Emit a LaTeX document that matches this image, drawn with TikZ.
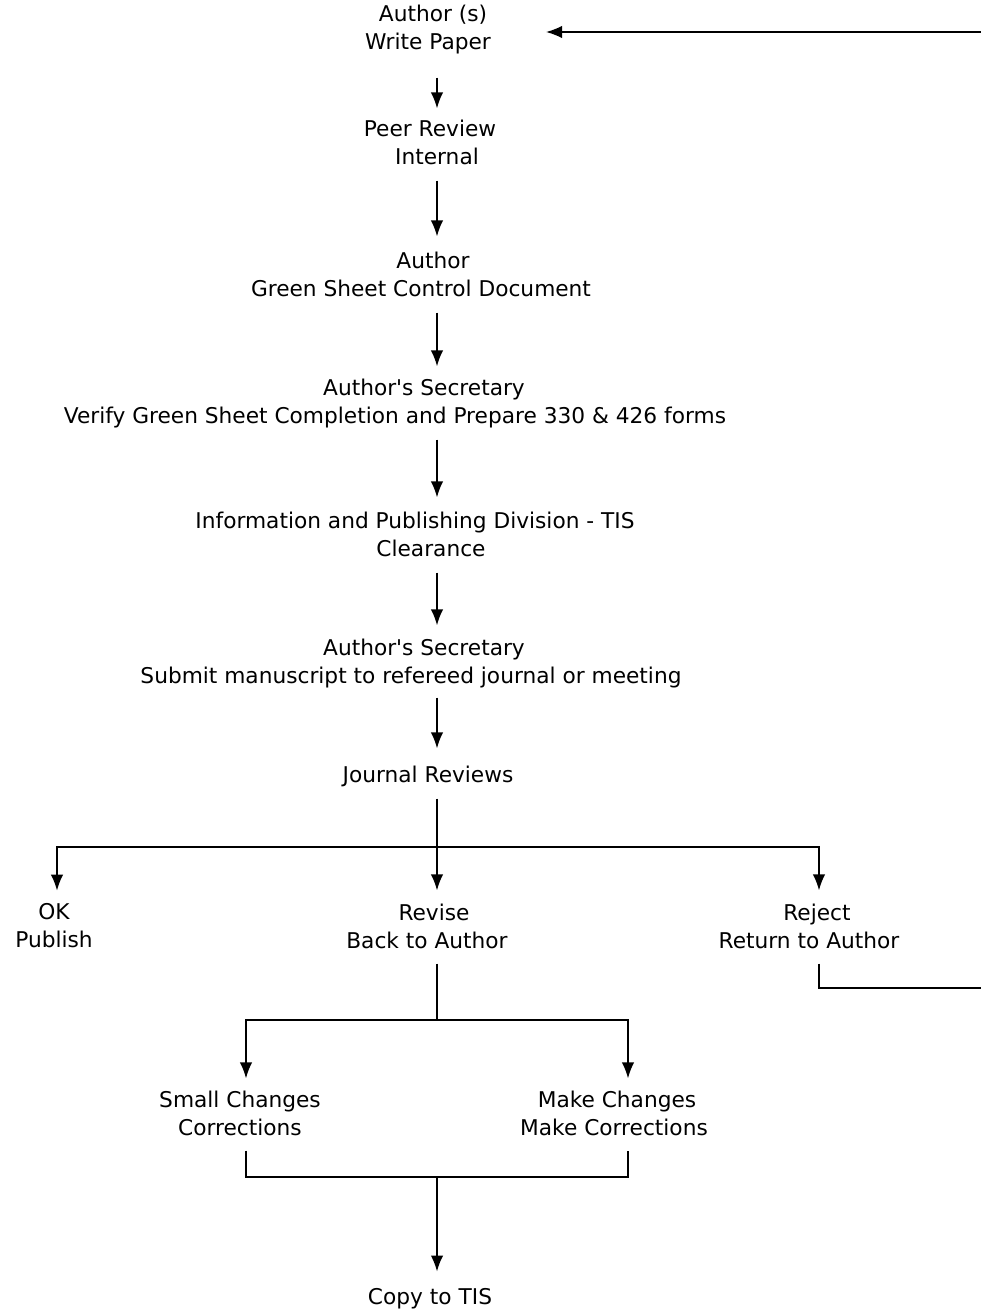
\documentclass[tikz,border=0pt]{standalone}
\usepackage{fontspec}
\setmainfont{DejaVu Sans}
\usetikzlibrary{arrows.meta}
\tikzset{
  stage/.style = {align=center, inner sep=0pt, font=\fontsize{21.7}{28}\selectfont},
  wire/.style = {draw=black, line width=1.6pt},
  flow/.style = {wire, shorten >=13pt, -{Latex[length=16pt,width=12.5pt]}},
}

\begin{document}
\begin{tikzpicture}[x=1pt,y=-1pt]
\useasboundingbox (0,0) rectangle (981,1314);
\coordinate (spine) at (437,0);
\coordinate (back) at (981,32);
\coordinate (out) at (981,988);
\coordinate (split) at (437,847);
\coordinate (fork) at (437,1020);
\coordinate (join) at (437,1177);

\node [stage] (author) at (428,30) {\hspace*{10pt}Author (s)\\Write Paper};
\node [stage] (peer) at (430,142) {Peer Review\\\hspace*{14pt}Internal};
\node [stage] (gsheet) at (421,274) {\hspace*{24pt}Author\\Green Sheet Control Document};
\node [stage] (secr) at (395,404) {\hspace*{58pt}Author\textquotesingle s Secretary\\Verify Green Sheet Completion and Prepare 330 \& 426 forms};
\node [stage] (tis) at (415,534) {Information and Publishing Division - TIS\\\hspace*{32pt}Clearance};
\node [stage] (submit) at (411,664) {\hspace*{26pt}Author\textquotesingle s Secretary\\Submit manuscript to refereed journal or meeting};
\node [stage] (journal) at (428,776) {Journal Reviews};
\node [stage] (ok) at (54,926) {OK\\Publish};
\node [stage] (revise) at (427,926) {\hspace*{14pt}Revise\\Back to Author};
\node [stage] (reject) at (809,926) {\hspace*{16pt}Reject\\Return to Author};
\node [stage] (small) at (240,1113) {Small Changes\\Corrections};
\node [stage] (make) at (614,1113) {\hspace*{6pt}Make Changes\\Make Corrections};
\node [stage] (copy) at (430,1299) {Copy to TIS};

\draw [flow, shorten >=55pt] (back) -- (back -| author.east);
\draw [flow, shorten <=23pt, shorten >=11pt] (author.south -| spine) -- (peer.north -| spine);
\draw [flow, shorten <=16pt, shorten >=15pt] (peer.south -| spine) -- (gsheet.north -| spine);
\draw [flow, shorten <=16pt] (gsheet.south -| spine) -- (secr.north -| spine);
\draw [flow, shorten <=11pt, shorten >=14pt] (secr.south -| spine) -- (tis.north -| spine);
\draw [flow, shorten <=16pt, shorten >=14pt] (tis.south -| spine) -- (submit.north -| spine);
\draw [flow, shorten <=9pt, shorten >=17pt] (submit.south -| spine) -- (journal.north -| spine);

\draw [wire, shorten <=12pt] (journal.south -| split) -- (split);
\draw [flow] (split) -| ([xshift=3pt]ok.north);
\draw [flow] (split) -- (revise.north -| split);
\draw [flow] (split) -| ([xshift=10pt]reject.north);
\draw [wire, shorten <=15pt] ([xshift=10pt]reject.south) |- (out);

\draw [wire, shorten <=15pt] (revise.south -| fork) -- (fork);
\draw [flow, shorten >=12pt] (fork) -| ([xshift=6pt]small.north);
\draw [flow, shorten >=12pt] (fork) -| ([xshift=14pt]make.north);
\draw [wire, shorten <=15pt, shorten >=15pt] ([xshift=6pt]small.south) |- (join) -| ([xshift=14pt]make.south);
\draw [flow, shorten >=17pt] (join) -- (copy.north -| join);
\end{tikzpicture}
\end{document}
